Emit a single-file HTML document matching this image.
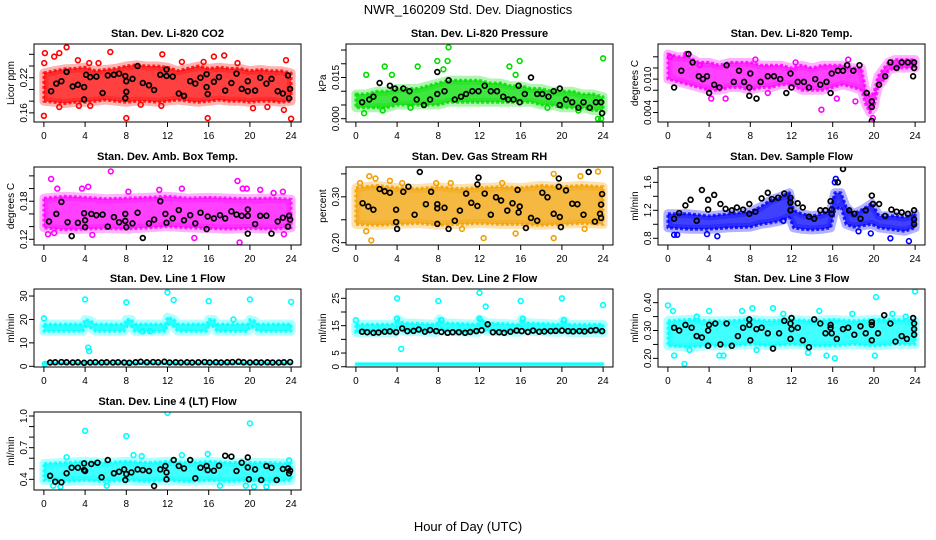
<!DOCTYPE html>
<html><head><meta charset="utf-8"><title>NWR_160209 Std. Dev. Diagnostics</title>
<style>
html,body{margin:0;padding:0;background:#fff;}
svg{display:block;font-family:"Liberation Sans",sans-serif;}
</style></head>
<body>
<svg id="chart" width="936" height="540" viewBox="0 0 936 540" xmlns="http://www.w3.org/2000/svg">
<rect x="0" y="0" width="936" height="540" fill="#fff"/>
<text x="468" y="14" text-anchor="middle" font-size="13">NWR_160209  Std. Dev. Diagnostics</text>
<text x="468" y="531" text-anchor="middle" font-size="13">Hour of Day (UTC)</text>
</svg>
<script>
// ---- shared x ticks ----
const xTicks=[0,4,8,12,16,20,24];

// ---- P1 CO2 ----
const p1Band=[[0,0.18,0.228],[1,0.178,0.232],[2,0.176,0.235],[3,0.178,0.236],[4,0.178,0.238],[5,0.18,0.232],[6,0.182,0.234],[7,0.18,0.236],[8,0.178,0.24],[9,0.18,0.242],[10,0.18,0.24],[11,0.178,0.24],[12,0.18,0.238],[13,0.182,0.232],[14,0.18,0.236],[15,0.178,0.24],[16,0.18,0.236],[17,0.182,0.238],[18,0.18,0.236],[19,0.18,0.236],[20,0.178,0.232],[21,0.18,0.234],[22,0.18,0.232],[23,0.178,0.232],[24,0.18,0.228]];
const p1Pts=[[0,0.155],[0.1,0.262],[1,0.256],[1.5,0.262],[2.2,0.272],[6.45,0.264],[11.5,0.26],[17.5,0.258],[16.5,0.256],[8,0.151],[15.9,0.151],[24,0.15],[23.5,0.25],[23.3,0.165],[0.03,0.245],[20.3,0.168],[3.4,0.172],[4.5,0.172],[1.5,0.17],[11.4,0.172],[21.7,0.17],[9.4,0.174],[13.4,0.247],[3.3,0.25],[4.4,0.245],[5.3,0.245],[18.8,0.245],[15.5,0.247]];
const p1Blk=[[0.7,0.197],[1.2,0.21],[1.7,0.214],[2.2,0.23],[2.8,0.205],[3.3,0.208],[3.9,0.183],[3.9,0.204],[4.1,0.225],[4.5,0.221],[5.1,0.222],[5.7,0.194],[6.2,0.224],[6.8,0.225],[7.3,0.227],[7.9,0.223],[7.9,0.185],[8,0.196],[8,0.214],[8.6,0.218],[9.1,0.24],[9.6,0.211],[10.2,0.207],[10.7,0.199],[11.3,0.225],[11.9,0.234],[11.9,0.223],[12.5,0.222],[13.1,0.193],[13.6,0.189],[14.2,0.214],[14.7,0.21],[15.2,0.22],[15.8,0.226],[15.8,0.204],[15.9,0.192],[16.5,0.213],[17,0.221],[17.6,0.198],[18.2,0.211],[18.7,0.227],[19.2,0.201],[19.8,0.214],[19.8,0.197],[20.5,0.198],[21,0.22],[21.6,0.21],[22.1,0.218],[22.7,0.197],[23.2,0.193],[23.7,0.224],[23.8,0.185],[23.9,0.201]];
const p1Ticks=[0.16,0.18,0.20,0.22,0.24,0.26];
const p1Labels=["0.16","","","0.22","",""];

// ---- P2 Pressure ----
const p2Band=[[0,0.004,0.009],[1,0.004,0.009],[2,0.004,0.010],[3,0.004,0.010],[4,0.005,0.011],[5,0.005,0.011],[6,0.005,0.011],[7,0.005,0.012],[8,0.005,0.013],[9,0.006,0.014],[10,0.006,0.014],[11,0.006,0.014],[12,0.006,0.014],[13,0.006,0.013],[14,0.006,0.013],[15,0.006,0.012],[16,0.006,0.012],[17,0.006,0.011],[18,0.005,0.011],[19,0.005,0.010],[20,0.004,0.010],[21,0.004,0.010],[22,0.004,0.009],[23,0.003,0.009],[24,0.003,0.008]];
const p2Pts=[[1.0,0.016],[2.8,0.019],[3.5,0.016],[6.0,0.019],[7.9,0.021],[8.9,0.021],[9.0,0.026],[8.5,0.018],[14.9,0.019],[15.9,0.021],[15.5,0.016],[24,0.022],[23.5,0.000],[23.8,0.000],[0.8,0.002],[2.6,0.003],[5.3,0.004],[18.6,0.004],[21.6,0.003]];
const p2Blk=[[0.6,0.006],[1.3,0.007],[1.7,0.008],[2.3,0.013],[3.3,0.012],[3.8,0.011],[3.8,0.007],[4.6,0.011],[5.2,0.010],[5.9,0.007],[6.6,0.005],[7.2,0.007],[7.9,0.009],[7.9,0.017],[8.6,0.010],[9.0,0.014],[9.6,0.007],[10.2,0.008],[10.7,0.009],[11.3,0.010],[11.9,0.010],[12.5,0.012],[13.1,0.010],[13.7,0.010],[14.3,0.008],[14.8,0.007],[15.3,0.007],[15.9,0.006],[15.8,0.012],[16.4,0.009],[17.0,0.015],[17.6,0.009],[18.1,0.009],[18.7,0.008],[19.2,0.010],[19.8,0.011],[19.8,0.005],[20.4,0.007],[21.0,0.006],[21.6,0.004],[22.1,0.006],[22.7,0.004],[23.3,0.006],[23.8,0.006],[23.9,0.002]];
const p2Ticks=[0,0.005,0.01,0.015,0.02,0.025];
const p2Labels=["0.000","","","0.015","",""];

// ---- P3 Li-820 Temp ----
const p3Band=[[0,0.010,0.0145],[1,0.0095,0.0140],[2,0.009,0.0140],[3,0.0085,0.0130],[4,0.008,0.0130],[5,0.008,0.0125],[6,0.0085,0.013],[7,0.0085,0.013],[8,0.008,0.013],[9,0.0085,0.0125],[10,0.0085,0.0125],[11,0.009,0.0125],[12,0.009,0.012],[13,0.008,0.0125],[14,0.008,0.012],[15,0.008,0.0125],[16,0.0085,0.0125],[17,0.009,0.0125],[18,0.0085,0.012],[18.8,0.008,0.012],[19.2,0.0055,0.008],[19.6,0.004,0.007],[20.0,0.005,0.0075],[20.4,0.0085,0.0105],[21,0.010,0.012],[21.4,0.0115,0.013],[22,0.012,0.0135],[23,0.012,0.0135],[24,0.012,0.0135]];
const p3Pts=[[0.2,0.014],[1.8,0.0145],[3.1,0.0125],[4.2,0.0065],[5.6,0.0065],[8.5,0.0135],[9.7,0.0075],[12.4,0.0130],[14.9,0.0045],[16.4,0.0065],[17.5,0.0135],[18.2,0.006],[19.9,0.003]];
const p3Blk=[[0.6,0.0085],[1.3,0.0115],[2.0,0.0145],[2.4,0.013],[3.0,0.0105],[3.4,0.010],[3.8,0.0105],[4.0,0.0075],[4.5,0.009],[5.0,0.0085],[5.7,0.0125],[6.4,0.0095],[6.9,0.0115],[7.4,0.0095],[7.9,0.0085],[7.9,0.007],[8.0,0.011],[8.6,0.0065],[9.0,0.0095],[9.7,0.0105],[10.3,0.0105],[10.9,0.0100],[11.5,0.0075],[11.9,0.011],[12.0,0.0085],[12.6,0.0095],[13.2,0.0095],[13.7,0.0085],[14.3,0.0100],[14.8,0.009],[15.4,0.0095],[15.8,0.0075],[15.9,0.0110],[16.5,0.0115],[17.0,0.0115],[17.4,0.0125],[18.0,0.0115],[18.6,0.0125],[19.3,0.0075],[19.8,0.006],[19.8,0.005],[19.8,0.0025],[20.5,0.009],[21.1,0.0105],[21.6,0.013],[22.2,0.012],[22.7,0.013],[23.3,0.013],[23.8,0.0105],[23.9,0.012],[23.9,0.013]];
const p3Ticks=[0.004,0.006,0.008,0.010,0.012,0.014];
const p3Labels=["0.004","","","0.010","",""];

// ---- P4 Amb. Box Temp ----
const p4Band=[[0,0.138,0.185],[2,0.135,0.188],[4,0.136,0.186],[6,0.137,0.184],[8,0.136,0.185],[10,0.138,0.186],[12,0.14,0.188],[14,0.138,0.185],[16,0.137,0.186],[18,0.136,0.185],[20,0.137,0.184],[22,0.136,0.185],[24,0.138,0.183]];
const p4Pts=[[0.7,0.215],[1.3,0.200],[3.7,0.200],[4.3,0.203],[6.5,0.227],[8.2,0.195],[11.2,0.198],[13.4,0.200],[18.8,0.212],[19.3,0.200],[19.7,0.200],[21.0,0.198],[22.3,0.193],[23.2,0.195],[0.4,0.128],[4.7,0.127],[14.6,0.122],[19.0,0.115],[23.3,0.128],[1.0,0.130]];
const p4Blk=[[0.5,0.148],[1.2,0.160],[1.7,0.179],[2.3,0.147],[2.7,0.125],[3.3,0.146],[3.9,0.161],[4,0.150],[4,0.139],[4.6,0.16],[5.1,0.158],[5.7,0.159],[6.2,0.140],[6.8,0.155],[7.3,0.147],[7.9,0.160],[7.9,0.149],[8,0.139],[8.6,0.145],[9.1,0.162],[9.6,0.122],[10.2,0.145],[10.7,0.151],[11.3,0.180],[11.8,0.160],[11.9,0.146],[12.5,0.153],[13.1,0.166],[13.6,0.150],[14.2,0.158],[14.7,0.145],[15.2,0.162],[15.8,0.136],[15.9,0.156],[16.5,0.153],[17.1,0.158],[17.6,0.153],[18.2,0.164],[18.7,0.159],[19.2,0.157],[19.8,0.157],[19.8,0.129],[19.8,0.167],[20.5,0.144],[21,0.157],[21.6,0.157],[22.1,0.129],[22.7,0.148],[23.2,0.154],[23.7,0.140],[23.8,0.157],[23.9,0.151]];
const p4Ticks=[0.12,0.14,0.16,0.18,0.20,0.22];
const p4Labels=["0.12","","","0.18","",""];

// ---- P5 Gas Stream RH ----
const p5Band=[[0,0.24,0.32],[2,0.238,0.325],[4,0.24,0.32],[6,0.242,0.318],[8,0.238,0.322],[10,0.24,0.318],[12,0.242,0.32],[14,0.24,0.322],[16,0.24,0.32],[18,0.238,0.325],[20,0.24,0.322],[22,0.242,0.325],[24,0.24,0.322]];
const p5Pts=[[0.4,0.33],[1.3,0.345],[1.9,0.34],[1.5,0.205],[1.0,0.225],[3.3,0.335],[7.8,0.33],[9.2,0.33],[12.4,0.21],[14.2,0.33],[15.5,0.22],[19.2,0.35],[19.2,0.21],[21.8,0.345],[22.2,0.23],[23.5,0.355],[4.5,0.33],[10.3,0.23]];
const p5Blk=[[0.65,0.286],[1.2,0.279],[1.7,0.272],[2.3,0.317],[2.8,0.312],[3.3,0.309],[3.9,0.272],[3.9,0.245],[4,0.230],[4.6,0.311],[5.1,0.322],[5.7,0.261],[6.2,0.354],[6.8,0.284],[7.3,0.311],[7.9,0.275],[7.9,0.284],[7.9,0.241],[8.6,0.276],[9.0,0.230],[9.6,0.248],[10.1,0.270],[10.7,0.307],[11.2,0.287],[11.8,0.280],[11.8,0.327],[11.9,0.342],[12.5,0.307],[13.1,0.261],[13.6,0.299],[14.1,0.292],[14.7,0.270],[15.2,0.286],[15.7,0.315],[15.8,0.266],[15.9,0.279],[16.5,0.232],[17.0,0.254],[17.6,0.248],[18.1,0.309],[18.6,0.299],[19.2,0.263],[19.7,0.340],[19.7,0.322],[19.8,0.256],[19.9,0.234],[20.4,0.314],[21.0,0.285],[21.5,0.284],[22.1,0.261],[22.6,0.354],[23.2,0.246],[23.7,0.263],[23.8,0.283],[23.9,0.306],[23.8,0.254]];
const p5Ticks=[0.20,0.25,0.30,0.35];
const p5Labels=["0.20","","0.30",""];

// ---- P6 Sample Flow ----
const p6Band=[[0,0.95,1.15],[2,0.93,1.15],[4,0.93,1.12],[6,0.95,1.15],[8,0.96,1.18],[9,1.0,1.25],[10,1.02,1.35],[11,1.05,1.4],[11.8,1.1,1.45],[12.2,0.95,1.2],[13,0.93,1.15],[14,0.92,1.12],[15,0.93,1.15],[15.8,0.95,1.2],[16.2,1.2,1.45],[16.8,1.25,1.45],[17.3,1.0,1.25],[18,0.96,1.15],[19,0.98,1.22],[19.8,1.0,1.3],[20.5,0.95,1.12],[22,0.92,1.12],[23,0.9,1.1],[24,0.95,1.15]];
const p6Pts=[[0.6,0.85],[0.9,0.85],[3.8,0.86],[4.8,0.83],[16.2,1.6],[16.3,1.65],[19.7,0.87],[21.6,0.8],[23.4,0.76],[18.5,0.9],[11.2,1.05]];
const p6Blk=[[0.6,1.08],[1.1,1.16],[1.7,1.27],[2.2,1.35],[2.8,1.05],[3.3,1.49],[3.9,1.35],[3.9,1.21],[4.5,1.42],[5.1,1.29],[5.6,1.22],[6.2,1.20],[6.7,1.24],[7.3,1.21],[7.9,1.29],[7.9,1.15],[8.5,1.18],[9.1,1.37],[9.7,1.45],[10.1,1.36],[10.7,1.38],[11.3,1.44],[11.9,1.38],[11.9,1.31],[11.9,1.20],[12.6,1.30],[13.1,1.24],[13.7,1.11],[14.2,1.08],[14.8,1.20],[15.3,1.20],[15.8,1.33],[15.9,1.21],[15.9,1.15],[16.5,1.60],[17.0,1.79],[17.6,1.20],[18.1,1.15],[18.7,1.08],[19.2,1.20],[19.8,1.41],[19.9,1.29],[20.5,1.29],[21.1,1.12],[21.7,1.21],[22.2,1.18],[22.7,1.17],[23.3,1.15],[23.9,1.20],[23.9,1.07],[23.9,1.0]];
const p6Ticks=[0.8,1.0,1.2,1.4,1.6,1.8];
const p6Labels=["0.8","","1.2","","1.6",""];

// ---- P7 Line 1 Flow ----
const p7Band=[[0,15,18],[3.8,15,18],[4.0,17,20],[4.5,16.5,19.5],[5,15,18],[7.8,15,18],[8,17,20],[8.5,17,20],[8.8,15,18],[11.8,15,18],[12,18,21],[12.6,17,20],[13,15,18],[15.8,15,18],[16,17,20],[16.5,17,20],[16.8,15,18],[19.8,15,18],[20,17,20],[20.4,16.5,19.5],[20.8,15,18],[24,15,18]];
const p7Band2=[[0,1.0,1.6],[24,1.0,1.6]];
const p7Pts=[[0,20.5],[4,28.5],[4.3,8],[4.4,6.5],[8.0,27.3],[12,31.5],[12.6,28.3],[16,27.8],[18.4,20],[20,28.5],[24,27.5],[0.1,1.0],[9.6,15.0],[10.3,15.0]];
const p7Blk=[[0.6,1.6],[1.1,1.7],[1.7,1.8],[2.2,1.7],[2.8,1.6],[3.3,1.7],[3.9,1.5],[4.5,1.6],[5.0,1.7],[5.6,1.6],[6.1,1.7],[6.7,1.6],[7.2,1.7],[7.8,1.6],[8.3,1.5],[8.9,1.7],[9.4,1.9],[10.0,1.7],[10.6,1.8],[11.1,1.7],[11.7,1.9],[12.2,1.6],[12.8,1.7],[13.3,1.6],[13.9,1.7],[14.4,1.6],[15.0,1.7],[15.6,1.8],[16.1,1.6],[16.7,1.7],[17.2,1.6],[17.8,1.7],[18.3,1.8],[18.9,1.9],[19.4,1.7],[20.0,1.6],[20.6,1.7],[21.1,1.6],[21.7,1.7],[22.2,1.6],[22.8,1.6],[23.3,1.7],[23.9,1.8]];
const p7Ticks=[0,10,20,30];
const p7Labels=["0","10","20","30"];

// ---- P8 Line 2 Flow ----
const p8Band=[[0,12.5,15.5],[3.8,12.5,15.5],[4.0,14.5,17.5],[4.6,13,16],[7.8,12.5,15.5],[8.1,14.5,17.5],[8.6,13,16],[11.8,12.5,15.5],[12.0,14.5,17.5],[12.7,13,16],[15.8,12.5,15.5],[16.1,14.5,17.5],[16.6,13,16],[19.8,12.5,15.5],[20.1,14.5,17],[20.6,12.5,15.5],[24,12.5,15.5]];
const p8Band2=[[0,0.6,1.3],[24,0.6,1.3]];
const p8Pts=[[0,17],[4,25],[4.4,6.5],[8,24],[12,27],[12.6,22],[16,24],[20,25],[24,22.5],[4,17.5],[8.3,17],[12,17.5],[16.2,17.5],[20.2,17]];
const p8Blk=[[0.6,12.8],[1.1,12.6],[1.7,12.4],[2.2,12.5],[2.8,12.8],[3.3,12.9],[3.9,12.6],[4.5,14.0],[5.0,13.0],[5.6,13.1],[6.1,13.6],[6.7,12.8],[7.2,13.4],[7.8,13.0],[8.3,12.7],[8.9,12.4],[9.4,12.6],[10.0,12.6],[10.6,12.4],[11.1,12.7],[11.7,13.0],[12.2,13.3],[12.8,15.5],[13.3,12.6],[13.9,12.6],[14.4,12.4],[15.0,12.8],[15.6,13.2],[16.1,13.0],[16.7,12.7],[17.2,13.2],[17.8,12.8],[18.3,12.9],[18.9,13.0],[19.4,13.1],[20.0,13.2],[20.6,13.0],[21.1,12.9],[21.7,13.0],[22.2,12.9],[22.8,13.2],[23.3,13.4],[23.9,13.0]];
const p8Ticks=[0,5,10,15,20,25];
const p8Labels=["0","5","","15","","25"];

// ---- P9 Line 3 Flow ----
const p9Band=[[0,0.245,0.335],[2,0.24,0.34],[4,0.245,0.335],[6,0.245,0.335],[8,0.25,0.34],[10,0.245,0.335],[12,0.25,0.34],[14,0.245,0.335],[16,0.245,0.34],[18,0.25,0.335],[20,0.245,0.34],[22,0.25,0.34],[24,0.25,0.335]];
const p9Pts=[[0,0.39],[0.5,0.37],[0.6,0.21],[1.6,0.18],[2.8,0.35],[4,0.37],[5,0.21],[5.4,0.21],[7.2,0.37],[8.2,0.38],[8.6,0.23],[10.2,0.38],[11.2,0.36],[14.7,0.37],[15.4,0.21],[16.2,0.2],[17.9,0.36],[20.2,0.42],[20.1,0.21],[21.8,0.36],[23.1,0.35],[24,0.44],[13.6,0.22],[2.1,0.23]];
const p9Blk=[[0.6,0.31],[1.1,0.30],[1.7,0.32],[2.3,0.31],[2.8,0.28],[3.3,0.275],[3.9,0.30],[3.9,0.245],[4.0,0.32],[4.6,0.325],[5.1,0.25],[5.7,0.325],[6.2,0.245],[6.8,0.28],[7.3,0.31],[7.9,0.32],[7.9,0.34],[8.0,0.265],[8.6,0.305],[9.1,0.31],[9.7,0.29],[10.2,0.235],[10.8,0.29],[11.3,0.335],[11.9,0.325],[11.9,0.27],[12.0,0.345],[12.0,0.305],[12.6,0.31],[13.1,0.265],[13.7,0.24],[14.2,0.34],[14.8,0.325],[15.3,0.29],[15.8,0.31],[15.8,0.32],[15.9,0.29],[16.4,0.27],[17.0,0.305],[17.5,0.31],[18.1,0.285],[18.7,0.315],[19.2,0.29],[19.8,0.265],[19.8,0.33],[19.8,0.32],[20.4,0.29],[21.0,0.355],[21.6,0.325],[22.1,0.26],[22.7,0.28],[23.2,0.27],[23.8,0.345],[23.9,0.325],[23.9,0.305],[23.9,0.285]];
const p9Ticks=[0.20,0.25,0.30,0.35,0.40];
const p9Labels=["0.20","","0.30","","0.40"];

// ---- P10 Line 4 (LT) Flow ----
const p10Band=[[0,0.39,0.55],[2,0.38,0.56],[4,0.39,0.57],[6,0.38,0.56],[8,0.39,0.57],[10,0.38,0.56],[12,0.39,0.57],[14,0.38,0.56],[16,0.39,0.57],[18,0.38,0.56],[20,0.39,0.56],[22,0.38,0.56],[24,0.39,0.55]];
const p10Pts=[[4,0.86],[8,0.81],[12,1.03],[20,0.93],[8.7,0.63],[15.9,0.64],[13.4,0.63],[0.9,0.34],[1.6,0.33],[6.1,0.34],[17.1,0.34],[19.6,0.34],[20.4,0.33],[21.6,0.33],[2.2,0.61],[9.5,0.62],[23.8,0.58]];
const p10Blk=[[0.6,0.434],[1.1,0.378],[1.7,0.372],[2.2,0.457],[2.7,0.51],[3.3,0.51],[3.9,0.488],[3.9,0.551],[4.0,0.479],[4.6,0.545],[5.2,0.558],[5.6,0.419],[6.2,0.583],[6.8,0.457],[7.3,0.472],[7.8,0.494],[7.9,0.394],[8.0,0.45],[8.5,0.466],[9.1,0.494],[9.6,0.488],[10.2,0.479],[10.7,0.337],[11.3,0.494],[11.8,0.526],[11.9,0.40],[11.9,0.466],[12.6,0.583],[13.1,0.526],[13.6,0.504],[14.2,0.583],[14.7,0.41],[15.2,0.51],[15.8,0.526],[15.9,0.488],[16.5,0.482],[17.0,0.529],[17.6,0.624],[18.2,0.615],[18.7,0.479],[19.2,0.558],[19.8,0.608],[19.8,0.513],[19.9,0.40],[20.5,0.494],[21.1,0.394],[21.6,0.526],[22.1,0.51],[22.6,0.394],[23.2,0.498],[23.7,0.504],[23.8,0.457],[23.9,0.482]];
const p10Ticks=[0.4,0.5,0.6,0.7,0.8,0.9,1.0];
const p10Labels=["0.4","","","0.7","","","1.0"];

const NS="http://www.w3.org/2000/svg";
const svg=document.getElementById('chart');
const cols=[34,346,658], rows=[44,167,289,412], PW=267, PH=78;

const panels=[
 {slug:'co2',title:'Stan. Dev. Li-820 CO2',ylab:'Licor ppm',c:0,r:0,dom:[0.1444,0.2776],color:'#ff0000',bands:[p1Band],pts:p1Pts,blk:p1Blk,ticks:p1Ticks,labels:p1Labels},
 {slug:'pressure',title:'Stan. Dev. Li-820 Pressure',ylab:'kPa',c:1,r:0,dom:[-0.0012,0.0272],color:'#00dd00',bands:[p2Band],pts:p2Pts,blk:p2Blk,ticks:p2Ticks,labels:p2Labels},
 {slug:'licor-temp',title:'Stan. Dev. Li-820 Temp.',ylab:'degrees C',c:2,r:0,dom:[0.0023,0.0163],color:'#ff00ff',bands:[p3Band],pts:p3Pts,blk:p3Blk,ticks:p3Ticks,labels:p3Labels},
 {slug:'box-temp',title:'Stan. Dev. Amb. Box Temp.',ylab:'degrees C',c:0,r:1,dom:[0.111,0.234],color:'#ff00ff',bands:[p4Band],pts:p4Pts,blk:p4Blk,ticks:p4Ticks,labels:p4Labels},
 {slug:'gas-rh',title:'Stan. Dev. Gas Stream RH',ylab:'percent',c:1,r:1,dom:[0.195,0.365],color:'#f2a000',bands:[p5Band],pts:p5Pts,blk:p5Blk,ticks:p5Ticks,labels:p5Labels},
 {slug:'sample-flow',title:'Stan. Dev. Sample Flow',ylab:'ml/min',c:2,r:1,dom:[0.704,1.819],color:'#0000ff',bands:[p6Band],pts:p6Pts,blk:p6Blk,ticks:p6Ticks,labels:p6Labels},
 {slug:'line1',title:'Stan. Dev. Line 1 Flow',ylab:'ml/min',c:0,r:2,dom:[-0.3,33.0],color:'#00ffff',bands:[p7Band,p7Band2],pts:p7Pts,blk:p7Blk,ticks:p7Ticks,labels:p7Labels},
 {slug:'line2',title:'Stan. Dev. Line 2 Flow',ylab:'ml/min',c:1,r:2,dom:[-0.1,28.4],color:'#00ffff',bands:[p8Band,p8Band2],pts:p8Pts,blk:p8Blk,ticks:p8Ticks,labels:p8Labels},
 {slug:'line3',title:'Stan. Dev. Line 3 Flow',ylab:'ml/min',c:2,r:2,dom:[0.169,0.449],color:'#00ffff',bands:[p9Band],pts:p9Pts,blk:p9Blk,ticks:p9Ticks,labels:p9Labels},
 {slug:'line4',title:'Stan. Dev. Line 4 (LT) Flow',ylab:'ml/min',c:0,r:3,dom:[0.299,1.038],color:'#00ffff',bands:[p10Band],pts:p10Pts,blk:p10Blk,ticks:p10Ticks,labels:p10Labels}
];

function mk(tag,attrs,parent){const e=document.createElementNS(NS,tag);for(const k in attrs)e.setAttribute(k,attrs[k]);(parent||svg).appendChild(e);return e;}

panels.forEach(p=>{
  const L=cols[p.c], T=rows[p.r];
  const sx=h=>L+PW*(h+0.96)/25.92;
  const sy=v=>T+PH-(v-p.dom[0])/(p.dom[1]-p.dom[0])*PH;
  const g=mk('g',{});
  
  
  const clipId='clip-'+p.slug;
  const cp=mk('clipPath',{id:clipId},g);
  mk('rect',{x:L,y:T,width:PW,height:PH},cp);
  const plot=mk('g',{'clip-path':'url(#'+clipId+')'},g);
  
  
  p.bands.forEach((b,bi)=>{
    let d='M'+b.map(q=>sx(q[0]).toFixed(1)+','+sy(q[2]).toFixed(1)).join(' L');
    d+=' L'+b.slice().reverse().map(q=>sx(q[0]).toFixed(1)+','+sy(q[1]).toFixed(1)).join(' L')+' Z';
    const thin=(bi>0);
    const halo=mk('path',{d:d,fill:'none',stroke:p.color,'stroke-width':thin?3:9,'stroke-linejoin':'round','stroke-opacity':0.3},plot);
    
    
    const path=mk('path',{d:d,fill:p.color,'fill-opacity':0.75,stroke:p.color,'stroke-width':thin?1.5:3,'stroke-linejoin':'round','stroke-dasharray':thin?'none':'3 2','stroke-opacity':0.8},plot);
    
    
  });
  p.pts.forEach(q=>{
    const c=mk('circle',{cx:sx(q[0]).toFixed(1),cy:sy(q[1]).toFixed(1),r:2.4,fill:'none',stroke:p.color,'stroke-width':1.6},plot);
    
    
  });
  p.blk.forEach(q=>{
    const c=mk('circle',{cx:sx(q[0]).toFixed(1),cy:sy(q[1]).toFixed(1),r:2.4,fill:'none',stroke:'#000','stroke-width':1.7},plot);
    
    
  });
  const fr=mk('rect',{x:L,y:T,width:PW,height:PH,fill:'none',stroke:'#000','stroke-width':1},g);
  
  
  const tt=mk('text',{x:L+PW/2,y:T-7,'text-anchor':'middle','font-size':11,'font-weight':'bold'},g);
  tt.textContent=p.title;
  
  
  const xa=mk('g',{},g);
  
  
  mk('line',{x1:sx(0),x2:sx(24),y1:T+PH,y2:T+PH,stroke:'#000'},xa);
  xTicks.forEach(t=>{
    mk('line',{x1:sx(t),x2:sx(t),y1:T+PH,y2:T+PH+5,stroke:'#000'},xa);
    const tx=mk('text',{x:sx(t),y:T+PH+17,'text-anchor':'middle','font-size':10},xa);
    tx.textContent=t;
    
    
  });
  const ya=mk('g',{},g);
  
  
  const y0=sy(p.ticks[0]), y1=sy(p.ticks[p.ticks.length-1]);
  mk('line',{x1:L,x2:L,y1:y0,y2:y1,stroke:'#000'},ya);
  p.ticks.forEach((t,i)=>{
    const yy=sy(t);
    mk('line',{x1:L-5,x2:L,y1:yy,y2:yy,stroke:'#000'},ya);
    if(p.labels[i]){
      const tx=mk('text',{x:L-7,y:yy,'text-anchor':'middle','font-size':10,transform:'rotate(-90 '+(L-7)+' '+yy.toFixed(1)+')'},ya);
      tx.textContent=p.labels[i];
      
      
    }
  });
  const yt=mk('text',{x:L-20,y:T+PH/2,'text-anchor':'middle','font-size':10,transform:'rotate(-90 '+(L-20)+' '+(T+PH/2)+')'},g);
  yt.textContent=p.ylab;
  
  
});
</script>
</body></html>
